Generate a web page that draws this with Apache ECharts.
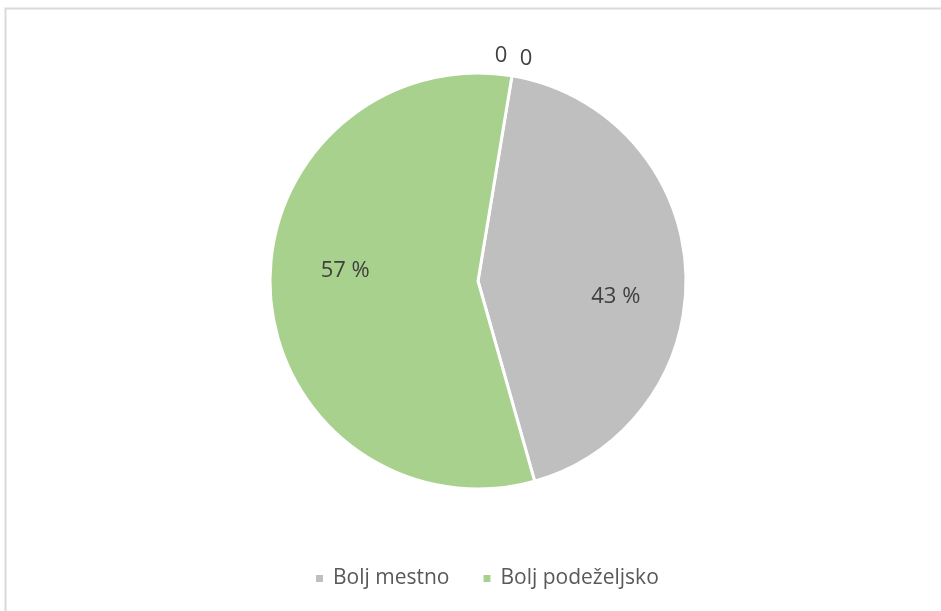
<!DOCTYPE html>
<html><head><meta charset="utf-8">
<script src="https://cdn.jsdelivr.net/npm/echarts@6/dist/echarts.min.js"></script>
<style>html,body{margin:0;padding:0;background:#fff}#c{width:941px;height:611px}</style>
</head><body><div id="c"></div>
<script>
const categories = ['', ' ', 'Bolj mestno', 'Bolj podeželjsko'];
const values = [0, 0, 43, 57];
const legendNames = ['Bolj mestno', 'Bolj podeželjsko'];
const colors = ['#BFBFBF', '#BFBFBF', '#BFBFBF', '#A9D18E'];

const chart = echarts.init(document.getElementById('c'));
const font = '"Open Sans", "Noto Sans", sans-serif';
const center = [478, 281];
const R = 208;
const zeroOffsets = [[-18, -16], [7, -13]];
const pctOffsets = [[0, 0], [0, 0], [-1, 23], [6, -18]];

const mainData = categories.map((n, i) => ({
  name: n, value: values[i],
  itemStyle: { color: colors[i] },
  label: values[i] === 0
    ? { show: true, position: 'outside', formatter: '{c}', offset: zeroOffsets[i], fontSize: 22, color: '#404040', fontFamily: font, distanceToLabelLine: 0 }
    : { show: false },
  labelLine: { show: false }
}));
const labelData = categories.map((n, i) => ({
  name: n, value: values[i],
  label: { show: values[i] !== 0, offset: pctOffsets[i] }
}));

chart.setOption({
  animation: false,
  graphic: [{ type: 'rect', shape: { x: 5.5, y: 8.5, width: 1000, height: 700 }, style: { fill: 'none', stroke: '#D9D9D9', lineWidth: 2 }, silent: true, z: -10 }],
  legend: {
    data: legendNames, bottom: 17, left: 309, icon: 'rect', itemWidth: 9, itemHeight: 9, itemGap: 32,
    textStyle: { fontSize: 21, color: '#595959', fontFamily: font, padding: [0, 0, 0, 4] }
  },
  series: [{
    type: 'pie', center: center, radius: [0, R], startAngle: 80.6, clockwise: true,
    avoidLabelOverlap: false, minShowLabelAngle: 0,
    itemStyle: { borderColor: '#fff', borderWidth: 3 },
    label: { distanceToLabelLine: 0 },
    labelLine: { show: false, length: 4, length2: 0 },
    emphasis: { disabled: true },
    data: mainData
  }, {
    type: 'pie', center: center, radius: [64, R], startAngle: 80.6, clockwise: true,
    silent: true, avoidLabelOverlap: false,
    itemStyle: { color: 'rgba(0,0,0,0)', borderWidth: 0 },
    label: { position: 'inner', formatter: '{c} %', fontSize: 22, color: '#404040', fontFamily: font },
    labelLine: { show: false },
    emphasis: { disabled: true },
    data: labelData
  }]
});
</script></body></html>
